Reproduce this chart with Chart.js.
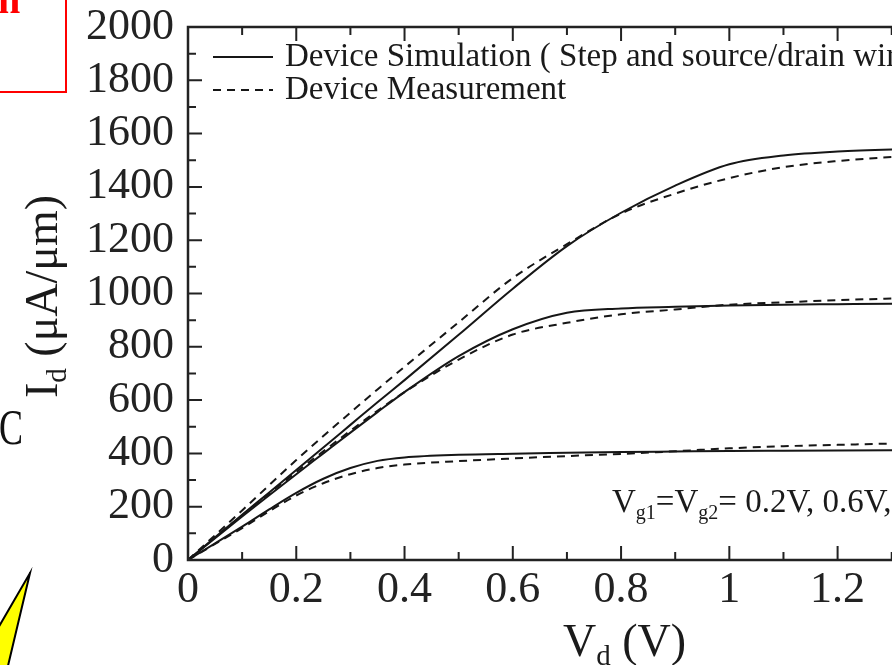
<!DOCTYPE html>
<html>
<head>
<meta charset="utf-8">
<script src="https://cdn.jsdelivr.net/npm/chart.js@4.4.1/dist/chart.umd.min.js"></script>
<style>
  html, body { margin: 0; padding: 0; background: #fff; overflow: hidden; width: 892px; height: 665px; }
  #wrap { position: absolute; left: 0; top: 0; width: 1010px; height: 665px; }
</style>
</head>
<body>
<div id="wrap"><canvas id="c" width="1010" height="665"></canvas></div>
<script>
// Drain voltage (V) sample points shared by every curve
const vd = [0, 0.05, 0.1, 0.15, 0.2, 0.25, 0.3, 0.35, 0.4, 0.5, 0.6, 0.7, 0.8, 0.9, 1.0, 1.1, 1.2, 1.3, 1.4];

// Drain current (uA/um), simulation (solid) and measurement (dashed)
const simLow  = [0, 62, 125, 190, 252, 305, 345, 372, 385, 395, 399, 402, 405, 407, 409, 410, 411, 412, 413];
const measLow = [0, 60, 120, 183, 242, 288, 322, 345, 358, 371, 381, 390, 398, 408, 419, 427, 432, 437, 440];
const simMid  = [0, 82, 163, 243, 322, 400, 478, 555, 630, 765, 866, 928, 944, 950, 955, 958, 960, 962, 963];
const measMid = [0, 85, 168, 250, 330, 408, 485, 560, 630, 752, 846, 890, 922, 940, 958, 967, 975, 981, 985];
const simTop  = [0, 85, 170, 253, 338, 422, 507, 592, 675, 845, 1018, 1178, 1303, 1405, 1485, 1518, 1533, 1540, 1543];
const measTop = [0, 93, 186, 281, 375, 465, 553, 640, 725, 892, 1058, 1185, 1300, 1375, 1433, 1474, 1497, 1512, 1520];

// Axis ticks
const xTicks = [0, 0.2, 0.4, 0.6, 0.8, 1.0, 1.2, 1.4];
const xTickLabels = ['0', '0.2', '0.4', '0.6', '0.8', '1', '1.2', '1.4'];
const yTicks = [0, 200, 400, 600, 800, 1000, 1200, 1400, 1600, 1800, 2000];

// Legend entries
const seriesNames = ['Device Simulation ( Step and source/drain wire )', 'Device Measurement'];

const SERIF = "'Liberation Serif', 'Times New Roman', serif";
const INK = '#161616';
const MEAS_DASH = [8, 6];

function pts(ys) { return vd.map((x, i) => ({ x: x, y: ys[i] })); }
function sim(ys) {
  return { label: seriesNames[0], data: pts(ys), borderColor: INK, borderWidth: 2,
           pointRadius: 0, showLine: true, cubicInterpolationMode: 'monotone', fill: false };
}
function meas(ys) {
  return { label: seriesNames[1], data: pts(ys), borderColor: INK, borderWidth: 2, borderDash: MEAS_DASH,
           pointRadius: 0, showLine: true, cubicInterpolationMode: 'monotone', fill: false };
}

// Text with subscripts: parts = [[text, isSub], ...]
function drawRich(ctx, parts, x, y, size) {
  let cx = x;
  for (const [t, sub] of parts) {
    const s = sub ? Math.round(size * 0.62) : size;
    ctx.font = s + 'px ' + SERIF;
    ctx.fillText(t, cx, sub ? y + size * 0.2 : y);
    cx += ctx.measureText(t).width;
  }
  return cx;
}

// Box frame with inward ticks (left, bottom, top)
const framePlugin = {
  id: 'frame',
  afterDraw(chart) {
    const { ctx, chartArea: a, scales: { x, y } } = chart;
    ctx.save();
    ctx.strokeStyle = '#222';
    ctx.lineWidth = 2.5;
    ctx.beginPath();
    ctx.moveTo(a.right + 20, a.top); ctx.lineTo(a.left, a.top);
    ctx.lineTo(a.left, a.bottom); ctx.lineTo(a.right + 20, a.bottom);
    ctx.stroke();
    ctx.lineWidth = 2;
    const MAJ = 14, MIN = 8;
    ctx.beginPath();
    for (let i = 0; i < xTicks.length; i++) {
      const px = x.getPixelForValue(xTicks[i]);
      ctx.moveTo(px, a.bottom); ctx.lineTo(px, a.bottom - MAJ);
      ctx.moveTo(px, a.top); ctx.lineTo(px, a.top + MAJ);
      if (i < xTicks.length - 1) {
        const pm = x.getPixelForValue((xTicks[i] + xTicks[i + 1]) / 2);
        ctx.moveTo(pm, a.bottom); ctx.lineTo(pm, a.bottom - MIN);
        ctx.moveTo(pm, a.top); ctx.lineTo(pm, a.top + MIN);
      }
    }
    for (let i = 0; i < yTicks.length; i++) {
      const py = y.getPixelForValue(yTicks[i]);
      ctx.moveTo(a.left, py); ctx.lineTo(a.left + MAJ, py);
      if (i < yTicks.length - 1) {
        const pm = y.getPixelForValue((yTicks[i] + yTicks[i + 1]) / 2);
        ctx.moveTo(a.left, pm); ctx.lineTo(a.left + MIN, pm);
      }
    }
    ctx.stroke();
    ctx.restore();
  }
};

// Legend inside the plot, axis titles and the gate-voltage note
const textPlugin = {
  id: 'texts',
  afterDraw(chart) {
    const { ctx } = chart;
    ctx.save();
    ctx.fillStyle = '#1a1a1a';
    ctx.strokeStyle = INK;

    // legend
    const rows = [{ y: 57, dash: [] }, { y: 90, dash: MEAS_DASH }];
    rows.forEach((r, i) => {
      ctx.lineWidth = 2;
      ctx.setLineDash(r.dash);
      ctx.beginPath(); ctx.moveTo(213, r.y); ctx.lineTo(273, r.y); ctx.stroke();
      ctx.setLineDash([]);
      ctx.font = '33px ' + SERIF;
      ctx.textBaseline = 'middle';
      ctx.fillText(seriesNames[i], 285, r.y);
    });

    ctx.textBaseline = 'alphabetic';
    // y title (rotated)
    ctx.save();
    ctx.translate(57, 398);
    ctx.rotate(-Math.PI / 2);
    drawRich(ctx, [['I', false], ['d', true], [' (\u03bcA/\u03bcm)', false]], 0, 0, 46);
    ctx.restore();

    // x title
    drawRich(ctx, [['V', false], ['d', true], [' (V)', false]], 563, 656, 46);

    // gate voltage note
    drawRich(ctx, [['V', false], ['g1', true], ['=V', false], ['g2', true], ['= 0.2V, 0.6V, 1.0V', false]], 612, 512, 33);
    ctx.restore();
  }
};

// Surrounding slide pieces: red frame, letter and yellow pointer
const slidePlugin = {
  id: 'slide',
  afterDraw(chart) {
    const { ctx } = chart;
    ctx.save();
    ctx.strokeStyle = '#ff0000';
    ctx.lineWidth = 2;
    ctx.strokeRect(-10, -10, 76, 102);
    ctx.fillStyle = '#ff0000';
    ctx.font = 'bold 40px ' + SERIF;
    ctx.textBaseline = 'alphabetic';
    ctx.fillText('n', -2, 13);

    ctx.fillStyle = '#111';
    ctx.font = '50px ' + SERIF;
    ctx.textAlign = 'left';
    ctx.save();
    ctx.translate(-1, 444);
    ctx.scale(0.72, 1);
    ctx.fillText('C', 0, 0);
    ctx.restore();

    ctx.beginPath();
    ctx.moveTo(30, 573); ctx.lineTo(7, 670); ctx.lineTo(-10, 670); ctx.lineTo(-10, 642);
    ctx.closePath();
    ctx.fillStyle = '#ffff00';
    ctx.fill();
    ctx.strokeStyle = '#000';
    ctx.lineWidth = 2;
    ctx.stroke();
    ctx.restore();
  }
};

new Chart(document.getElementById('c'), {
  type: 'scatter',
  data: {
    datasets: [sim(simTop), meas(measTop), sim(simMid), meas(measMid), sim(simLow), meas(measLow)]
  },
  options: {
    responsive: false,
    animation: false,
    devicePixelRatio: 1,
    layout: { padding: { top: 27, right: 10, left: 0, bottom: 0 } },
    plugins: { legend: { display: false }, tooltip: { enabled: false } },
    scales: {
      x: {
        type: 'linear', min: 0, max: 1.5,
        afterBuildTicks: s => { s.ticks = xTicks.map(v => ({ value: v })); },
        afterFit: s => { s.height = 105; s.paddingLeft = 0; s.paddingRight = 0; },
        ticks: {
          callback: (v) => { const i = xTicks.findIndex(t => Math.abs(t - v) < 1e-9); return i >= 0 ? xTickLabels[i] : ''; },
          font: { family: SERIF, size: 44 }, color: '#222', padding: 4, maxRotation: 0, autoSkip: false
        },
        grid: { display: false, drawTicks: false },
        border: { display: false }
      },
      y: {
        type: 'linear', min: 0, max: 2000,
        afterBuildTicks: s => { s.ticks = yTicks.map(v => ({ value: v })); },
        afterFit: s => { s.width = 188; s.paddingTop = 0; s.paddingBottom = 0; },
        ticks: { callback: v => String(v), font: { family: SERIF, size: 44 }, color: '#222', padding: 14, autoSkip: false },
        grid: { display: false, drawTicks: false },
        border: { display: false }
      }
    }
  },
  plugins: [framePlugin, textPlugin, slidePlugin]
});
</script>
</body>
</html>
